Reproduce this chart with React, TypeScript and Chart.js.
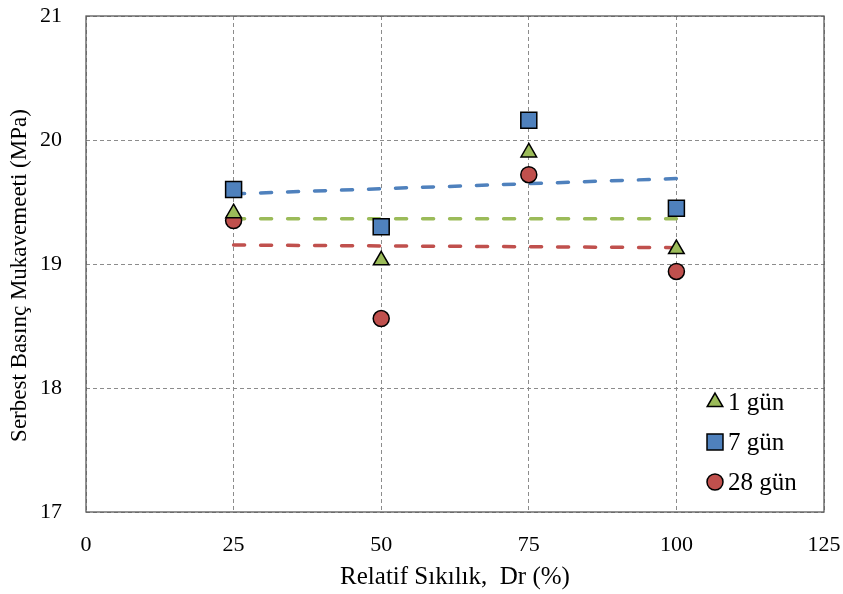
import React, { useEffect, useRef } from 'react';
import { Chart, registerables } from 'chart.js';
import { drawPoint } from 'chart.js/helpers';

Chart.register(...registerables);

// ---- data ----
const DR_VALUES = [25, 50, 75, 100];
const GUN_1 = [19.41, 19.03, 19.9, 19.12];
const GUN_7 = [19.6, 19.3, 20.16, 19.45];
const GUN_28 = [19.35, 18.56, 19.72, 18.94];
const SERIES_LABELS = ['1 gün', '7 gün', '28 gün'];
const X_TICKS = [0, 25, 50, 75, 100, 125];
const Y_TICKS = [17, 18, 19, 20, 21];
const X_TITLE = 'Relatif Sıkılık,  Dr (%)';
const Y_TITLE = 'Serbest Basınç Mukavemeeti (MPa)';

const GREEN = '#9BBB59';
const BLUE = '#4F81BD';
const RED = '#C0504D';
const FONT = '"Liberation Serif", "Times New Roman", serif';

// linear trend line (least squares) across the data range
function trend(xs: number[], ys: number[]) {
  const n = xs.length;
  const mx = xs.reduce((a, b) => a + b, 0) / n;
  const my = ys.reduce((a, b) => a + b, 0) / n;
  let sxy = 0;
  let sxx = 0;
  for (let i = 0; i < n; i++) {
    sxy += (xs[i] - mx) * (ys[i] - my);
    sxx += (xs[i] - mx) * (xs[i] - mx);
  }
  const b = sxy / sxx;
  const a = my - b * mx;
  const x0 = Math.min(...xs);
  const x1 = Math.max(...xs);
  return [
    { x: x0, y: a + b * x0 },
    { x: x1, y: a + b * x1 },
  ];
}

const pts = (ys: number[]) => DR_VALUES.map((x, i) => ({ x, y: ys[i] }));

const LEGEND_ITEMS = [
  { label: SERIES_LABELS[0], color: GREEN, style: 'triangle', radius: 9 },
  { label: SERIES_LABELS[1], color: BLUE, style: 'rect', radius: 11.3 },
  { label: SERIES_LABELS[2], color: RED, style: 'circle', radius: 8 },
];

const framePlugin = {
  id: 'frame',
  beforeDatasetsDraw(chart: any) {
    const { ctx, chartArea: a } = chart;
    ctx.save();
    ctx.strokeStyle = '#595959';
    ctx.lineWidth = 1.3;
    ctx.strokeRect(a.left, a.top, a.right - a.left, a.bottom - a.top);
    ctx.restore();
  },
};

const legendPlugin = {
  id: 'insideLegend',
  afterDatasetsDraw(chart: any) {
    const { ctx, chartArea: a } = chart;
    ctx.save();
    LEGEND_ITEMS.forEach((it, i) => {
      const cx = a.right - 109;
      const cy = a.bottom - 110 + i * 40;
      ctx.fillStyle = it.color;
      ctx.strokeStyle = '#000';
      ctx.lineWidth = 1.5;
      drawPoint(ctx, { pointStyle: it.style, radius: it.radius, borderWidth: 1.5, rotation: 0 } as any, cx, cy);
      ctx.fillStyle = '#000';
      ctx.font = `25px ${FONT}`;
      ctx.textAlign = 'left';
      ctx.textBaseline = 'middle';
      ctx.fillText(it.label, cx + 13, cy + 1);
    });
    ctx.restore();
  },
};

export default function App() {
  const ref = useRef<HTMLCanvasElement>(null);

  useEffect(() => {
    if (!ref.current) return;
    const scatter = (label: string, ys: number[], color: string, style: string, radius: number) => ({
      type: 'scatter' as const,
      label,
      data: pts(ys),
      backgroundColor: color,
      borderColor: '#000',
      borderWidth: 1.5,
      pointStyle: style,
      pointRadius: radius,
      pointHoverRadius: radius,
      showLine: false,
      order: 0,
    });
    const line = (label: string, ys: number[], color: string) => ({
      type: 'line' as const,
      label,
      data: trend(DR_VALUES, ys),
      borderColor: color,
      borderWidth: 3.5,
      borderDash: [11, 16],
      borderCapStyle: 'round' as const,
      pointRadius: 0,
      fill: false,
      tension: 0,
      order: 1,
    });

    const chart = new Chart(ref.current, {
      type: 'scatter',
      data: {
        datasets: [
          line('trend 7', GUN_7, BLUE),
          line('trend 1', GUN_1, GREEN),
          line('trend 28', GUN_28, RED),
          scatter(SERIES_LABELS[0], GUN_1, GREEN, 'triangle', 9),
          scatter(SERIES_LABELS[2], GUN_28, RED, 'circle', 8),
          scatter(SERIES_LABELS[1], GUN_7, BLUE, 'rect', 11.3),
        ] as any,
      },
      options: {
        responsive: false,
        animation: false,
        layout: { padding: { top: 16, right: 19, left: 0, bottom: 0 } },
        plugins: {
          legend: { display: false },
          tooltip: { enabled: false },
        },
        scales: {
          x: {
            type: 'linear',
            min: 0,
            max: 125,
            afterBuildTicks: (s: any) => {
              s.ticks = X_TICKS.map((v) => ({ value: v }));
            },
            afterFit: (s: any) => {
              s.height = 82;
              s.paddingLeft = 0;
              s.paddingRight = 0;
            },
            ticks: {
              font: { family: FONT, size: 22 },
              color: '#000',
              padding: 20,
              maxRotation: 0,
            },
            grid: { color: '#8c8c8c', drawTicks: false, lineWidth: 1 },
            border: { display: false, dash: [4, 3] },
            title: {
              display: true,
              text: X_TITLE,
              font: { family: FONT, size: 25 },
              color: '#000',
              padding: { top: 0, bottom: 2 },
            },
          },
          y: {
            type: 'linear',
            min: 17,
            max: 21,
            afterBuildTicks: (s: any) => {
              s.ticks = Y_TICKS.map((v) => ({ value: v }));
            },
            afterFit: (s: any) => {
              s.width = 86;
              s.paddingTop = 0;
              s.paddingBottom = 0;
            },
            ticks: {
              font: { family: FONT, size: 22 },
              color: '#000',
              padding: 24,
            },
            grid: { color: '#8c8c8c', drawTicks: false, lineWidth: 1 },
            border: { display: false, dash: [4, 3] },
            title: {
              display: true,
              text: Y_TITLE + '    ',
              font: { family: FONT, size: 23 },
              color: '#000',
              padding: { top: 6, bottom: 0 },
            },
          },
        },
      },
      plugins: [framePlugin, legendPlugin],
    });
    return () => chart.destroy();
  }, []);

  return (
    <div style={{ position: 'fixed', left: 0, top: 0, width: 843, height: 594, background: '#fff' }}>
      <canvas ref={ref} width={843} height={594} style={{ display: 'block' }} />
    </div>
  );
}
